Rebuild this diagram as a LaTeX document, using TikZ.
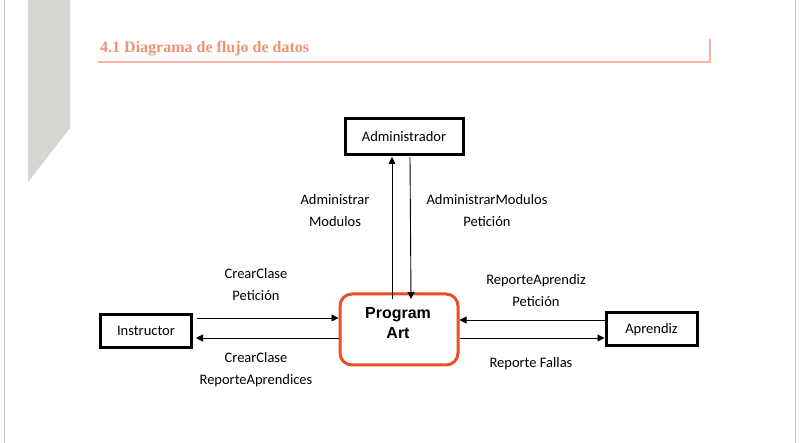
\documentclass[tikz,border=0pt]{standalone}
\usepackage{fontspec}
\setmainfont{Carlito}
\newfontfamily\arialf{Liberation Sans}
\newfontfamily\headf{Liberation Serif}
\usetikzlibrary{arrows.meta,calc}
\definecolor{headc}{HTML}{EE9272}
\definecolor{rulec}{HTML}{F6B5A1}
\definecolor{procc}{HTML}{E8502A}
\definecolor{bandc}{HTML}{D6D5D1}
\definecolor{pagec}{HTML}{C8C8C8}
\tikzset{
  entity/.style={draw=black, line width=3pt, minimum width=#1, fill=white, font=\fontsize{14.5}{17}\selectfont, inner sep=0pt},
  proc/.style={draw=procc, line width=3pt, rounded corners=12pt, minimum width=118pt, minimum height=71pt, fill=white},
  flow/.style={-{Triangle[length=7pt,width=7pt]}, line width=0.9pt},
  lbl/.style={font=\fontsize{14.5}{22}\selectfont, align=center, inner sep=0pt}
}
\begin{document}
\begin{tikzpicture}[x=1pt,y=-1pt]
\useasboundingbox (0,0) rectangle (801,443);
\fill[white] (0,0) rectangle (801,443);
% page decorations
\draw[pagec, line width=1pt] (4,0) -- (4,443);
\draw[pagec, line width=1pt] (795,0) -- (795,443);
\fill[bandc] (28,0) -- (70,0) -- (70,128) -- (28,182) -- cycle;
% heading
\node[anchor=base west, inner sep=0pt, text=headc, font=\headf\bfseries\fontsize{16}{19}\selectfont] (head) at (100,53) {4.1 Diagrama de flujo de datos};
\draw[rulec, line width=2pt] (98,62) -- (710,62) -- (710,39);
% entities
\node[entity=118pt, minimum height=36pt] (adm) at (404,137) {Administrador};
\node[entity=91pt, minimum height=33pt] (ins) at (146,331) {Instructor};
\node[entity=91pt, minimum height=33pt] (apr) at (651.5,329.5) {Aprendiz};
% process
\node[proc] (pa) at (399,329.5) {};
\node[font=\arialf\bfseries\fontsize{16}{20}\selectfont, align=center, inner sep=0pt] (pat) at (398,323) {Program\\Art};
% flows
\coordinate (upS) at (392,299);
\coordinate (upE) at (392,157);
\coordinate (dnS) at (410,157);
\coordinate (dnE) at (411,299);
\draw[flow] (upS) -- (upE);
\draw[flow] (dnS) -- (dnE);
\draw[flow] ($(ins.east |- 0,318)+(4,0)$) -- (pa.west |- 0,318);
\draw[flow] (pa.west |- 0,338) -- ($(ins.east |- 0,338)+(3,0)$);
\draw[flow] (apr.west |- 0,320) -- (pa.east |- 0,320);
\draw[flow] (pa.east |- 0,338) -- (apr.west |- 0,338);
% labels
\node[lbl] (l1) at (335,211) {Administrar\\Modulos};
\node[lbl] (l2) at (487,211) {AdministrarModulos\\Petición};
\node[lbl] (l3) at (256,285) {CrearClase\\Petición};
\node[lbl] (l4) at (256,369.5) {CrearClase\\ReporteAprendices};
\node[lbl] (l5) at (536,291) {ReporteAprendiz\\Petición};
\node[lbl] (l6) at (531,364) {Reporte Fallas};
\end{tikzpicture}
\end{document}
